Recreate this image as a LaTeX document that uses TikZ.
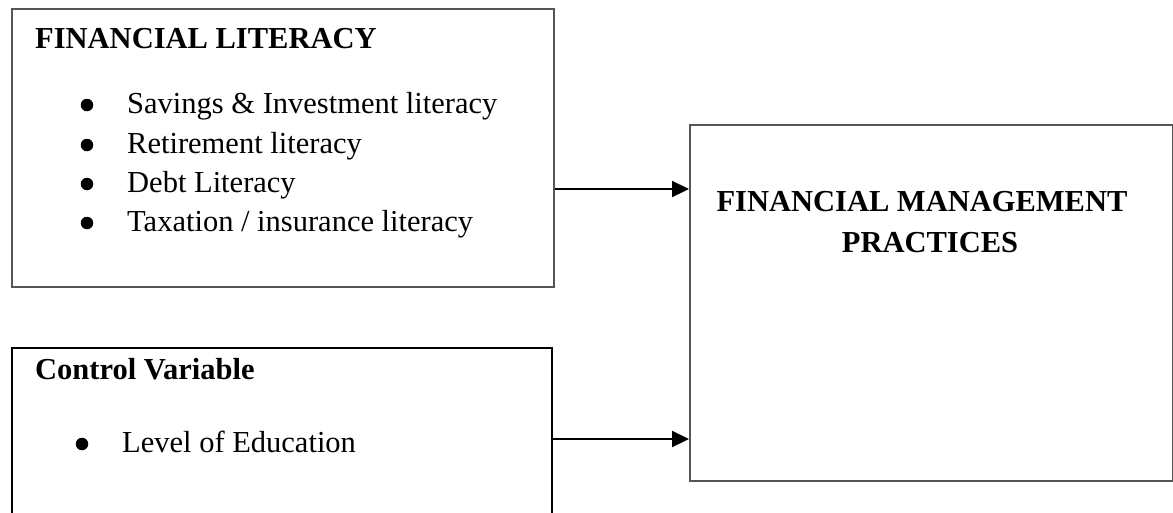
\documentclass[tikz,border=0pt]{standalone}
\usepackage{fontspec}
\setmainfont{Liberation Serif}
\usetikzlibrary{arrows.meta}
\definecolor{boxgray}{HTML}{555555}
\tikzset{
  x=1pt,y=1pt,
  box/.style={draw=boxgray,line width=2pt,minimum width=#1,inner sep=0pt,anchor=north west},
  txt/.style={anchor=base west,inner sep=0pt,font=\fontsize{30.5}{36}\selectfont},
  head/.style={txt,font=\fontsize{30.5}{36}\selectfont\bfseries},
  ctr/.style={anchor=base,inner sep=0pt,font=\fontsize{30.5}{36}\selectfont\bfseries},
  bul/.style={circle,fill=black,inner sep=0pt,minimum size=12.5pt},
  arr/.style={line width=2.2pt,-{Triangle[length=17pt,width=16pt]}}
}
\begin{document}
\begin{tikzpicture}
\useasboundingbox (0,0) rectangle (1173,-512);
% boxes
\node[box=542pt,minimum height=278pt] (lit) at (11,-8) {};
\node[box=483pt,minimum height=356pt] (fmp) at (689,-124) {};
\node[draw=black,line width=2pt,minimum width=540pt,minimum height=190pt,inner sep=0pt,anchor=north west] (ctl) at (11,-347) {};
% box 1 text
\node[head] (h1) at (35,-48) {FINANCIAL LITERACY};
\node[bul] (b1) at (87,-105) {};
\node[txt] (t1) at (127,-113) {Savings \& Investment literacy};
\node[bul] (b2) at (87,-145) {};
\node[txt] (t2) at (127,-153) {Retirement literacy};
\node[bul] (b3) at (87,-184) {};
\node[txt] (t3) at (127,-192) {Debt Literacy};
\node[bul] (b4) at (87,-223) {};
\node[txt] (t4) at (127,-231) {Taxation / insurance literacy};
% box 3 text
\node[ctr] (h3a) at (922,-211) {FINANCIAL MANAGEMENT};
\node[ctr] (h3b) at (930,-252) {PRACTICES};
% box 2 text
\node[head] (h2) at (35,-379) {Control Variable};
\node[bul] (b5) at (82,-444) {};
\node[txt] (t5) at (122,-452) {Level of Education};
% arrows
\coordinate (a1) at (0,-189);
\coordinate (a2) at (0,-439);
\draw[arr] (lit.east |- a1) -- (fmp.west |- a1);
\draw[arr] (ctl.east |- a2) -- (fmp.west |- a2);
\end{tikzpicture}
\end{document}
